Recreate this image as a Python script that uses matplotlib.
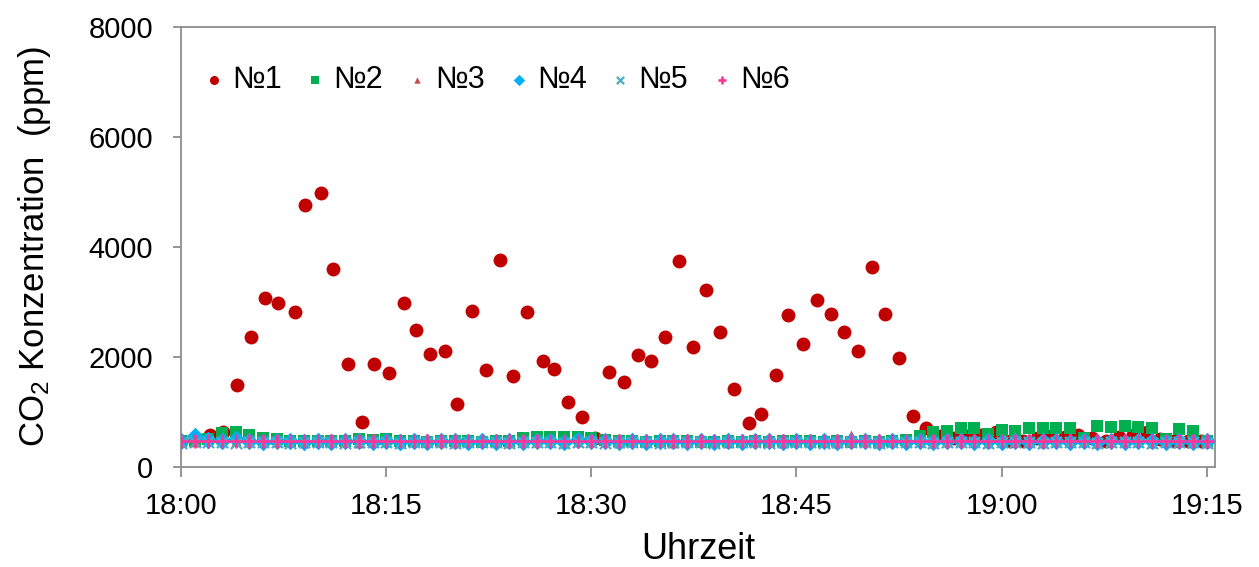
import numpy as np
import matplotlib.pyplot as plt

plt.rcParams['font.family'] = ['Liberation Sans', 'DejaVu Sans']
plt.rcParams['mathtext.fontset'] = 'custom'
plt.rcParams['mathtext.rm'] = 'Liberation Sans'

# =========================================================
# DATEN (Minuten nach 18:00, CO2 in ppm)
# =========================================================

# Messpunkt Nr.1 (rote Kreise)
t1 = [0.0, 1.0, 2.1, 3.1, 4.1, 5.1, 6.15, 7.1, 8.3, 9.1,
      10.2, 11.1, 12.2, 13.2, 14.1, 15.2, 16.3, 17.2, 18.2, 19.3,
      20.2, 21.3, 22.3, 23.3, 24.3, 25.3, 26.5, 27.3, 28.3, 29.3,
      30.3, 31.3, 32.4, 33.4, 34.4, 35.4, 36.4, 37.4, 38.4, 39.4,
      40.4, 41.5, 42.4, 43.5, 44.4, 45.5, 46.5, 47.5, 48.5, 49.5,
      50.5, 51.5, 52.5, 53.5, 54.5, 55.5, 56.5, 57.5, 58.5, 59.6,
      60.6, 61.6, 62.6, 63.6, 64.6, 65.6, 66.6, 67.6, 68.6, 69.6,
      70.6, 71.6, 72.6, 73.6, 74.6]
co2_1 = [480, 500, 580, 640, 1490, 2360, 3080, 2990, 2820, 4760,
         4990, 3600, 1880, 820, 1880, 1700, 2990, 2490, 2060, 2100,
         1150, 2840, 1760, 3760, 1650, 2820, 1920, 1780, 1190, 910,
         520, 1720, 1550, 2040, 1930, 2360, 3740, 2180, 3210, 2460,
         1410, 800, 960, 1670, 2760, 2240, 3030, 2790, 2460, 2110,
         3640, 2790, 1980, 920, 715, 560, 520, 560, 580, 640,
         480, 470, 520, 560, 540, 580, 520, 470, 540, 590,
         630, 500, 480, 470, 480]

# Messpunkte Nr.2 - Nr.6 (gleiche Zeitpunkte)
t = [0, 1, 2, 3, 4, 5, 6, 7, 8, 9,
     10, 11, 12, 13, 14, 15, 16, 17, 18, 19,
     20, 21, 22, 23, 24, 25, 26, 27, 28, 29,
     30, 31, 32, 33, 34, 35, 36, 37, 38, 39,
     40, 41, 42, 43, 44, 45, 46, 47, 48, 49,
     50, 51, 52, 53, 54, 55, 56, 57, 58, 59,
     60, 61, 62, 63, 64, 65, 66, 67, 68, 69,
     70, 71, 72, 73, 74, 75]
co2_2 = [470, 480, 500, 620, 640, 590, 530, 500, 480, 470,
         470, 480, 470, 500, 490, 500, 480, 470, 460, 470,
         480, 470, 460, 470, 480, 520, 540, 540, 550, 540,
         520, 490, 480, 470, 460, 470, 470, 480, 460, 450,
         470, 460, 470, 460, 470, 480, 470, 460, 470, 460,
         470, 460, 480, 490, 560, 640, 655, 700, 715, 600,
         680, 655, 700, 700, 715, 715, 520, 750, 735, 750,
         735, 715, 500, 685, 660, 480]
co2_3 = [450, 460, 470, 480, 470, 460, 450, 460, 450, 440,
         450, 460, 450, 440, 460, 450, 440, 450, 460, 450,
         440, 450, 460, 450, 440, 450, 460, 450, 440, 450,
         460, 450, 440, 450, 460, 450, 440, 450, 460, 450,
         440, 450, 460, 450, 440, 450, 460, 450, 440, 580,
         450, 440, 450, 460, 450, 440, 450, 460, 450, 440,
         450, 460, 450, 440, 450, 460, 450, 440, 450, 460,
         450, 440, 450, 460, 450, 440]
co2_4 = [470, 560, 490, 480, 500, 470, 460, 470, 480, 460,
         470, 460, 470, 480, 460, 470, 460, 470, 460, 470,
         480, 460, 470, 460, 470, 460, 470, 480, 460, 490,
         480, 470, 460, 470, 460, 470, 480, 460, 470, 460,
         470, 460, 470, 480, 460, 470, 460, 470, 460, 470,
         480, 460, 470, 460, 470, 460, 470, 480, 460, 470,
         460, 470, 460, 470, 480, 460, 470, 460, 470, 460,
         470, 480, 460, 470, 460, 470]
co2_5 = [440, 450, 460, 450, 440, 450, 460, 450, 440, 450,
         460, 450, 440, 450, 460, 450, 440, 450, 460, 450,
         440, 450, 460, 450, 440, 450, 460, 450, 440, 460,
         450, 440, 450, 460, 450, 440, 450, 460, 450, 440,
         450, 460, 450, 440, 450, 460, 450, 440, 450, 460,
         450, 440, 450, 460, 450, 440, 450, 460, 450, 440,
         450, 460, 450, 440, 450, 460, 450, 440, 450, 460,
         450, 440, 450, 460, 450, 440]
co2_6 = [470, 480, 470, 480, 470, 480, 470, 470, 480, 470,
         480, 470, 470, 480, 470, 480, 470, 470, 480, 470,
         480, 470, 470, 480, 470, 480, 470, 470, 480, 470,
         480, 470, 470, 480, 470, 480, 470, 470, 480, 470,
         480, 470, 470, 480, 470, 480, 470, 470, 480, 470,
         480, 470, 470, 480, 470, 480, 470, 470, 480, 470,
         480, 470, 470, 480, 470, 480, 470, 470, 480, 470,
         480, 470, 470, 480, 470, 480]

x_ticks = [0, 15, 30, 45, 60, 75]
x_labels = ["18:00", "18:15", "18:30", "18:45", "19:00", "19:15"]
y_ticks = [0, 2000, 4000, 6000, 8000]

# =========================================================
# GRAFIK
# =========================================================

fig = plt.figure(figsize=(12.59, 5.67), dpi=100)
ax = fig.add_axes([0.1438, 0.1764, 0.8212, 0.776])

ax.scatter(t1, co2_1, s=100, marker="o", color="#C00000", linewidths=0, label="№1", zorder=3)
ax.scatter(t, co2_2, s=85, marker="s", color="#00B050", linewidths=0, label="№2", zorder=3)
ax.scatter(t, co2_3, s=50, marker="^", color="#C0504D", linewidths=0, label="№3", zorder=3)
ax.scatter(t, co2_4, s=80, marker="D", color="#00B0F0", linewidths=0, label="№4", zorder=3)
ax.scatter(t, co2_5, s=65, marker="x", color="#4BACC6", linewidths=1.6, label="№5", zorder=3)
ax.scatter(t, co2_6, s=95, marker="+", color="#FF3399", linewidths=1.9, label="№6", zorder=3)

ax.set_xlim(0, 75.6)
ax.set_ylim(0, 8000)
ax.set_xticks(x_ticks)
ax.set_xticklabels(x_labels)
ax.set_yticks(y_ticks)

for sp in ax.spines.values():
    sp.set_color("#8C8C8C")
    sp.set_linewidth(1.3)

ax.tick_params(axis="both", labelsize=21, color="#8C8C8C", width=1.3, direction="out")
ax.tick_params(axis="x", length=7, pad=11)
ax.tick_params(axis="y", length=6, pad=14)

ax.set_xlabel("Uhrzeit", fontsize=26, labelpad=9)
ax.set_ylabel(r"$\mathregular{CO_2}$ Konzentration  (ppm)", fontsize=25, labelpad=26)

ax.legend(loc="upper left", bbox_to_anchor=(0.002, 0.963), ncol=6, frameon=False,
          fontsize=22, markerscale=0.65, handlelength=0.6, handletextpad=0.3,
          columnspacing=0.8, borderaxespad=0.3)

fig.savefig("out.png", dpi=100)
